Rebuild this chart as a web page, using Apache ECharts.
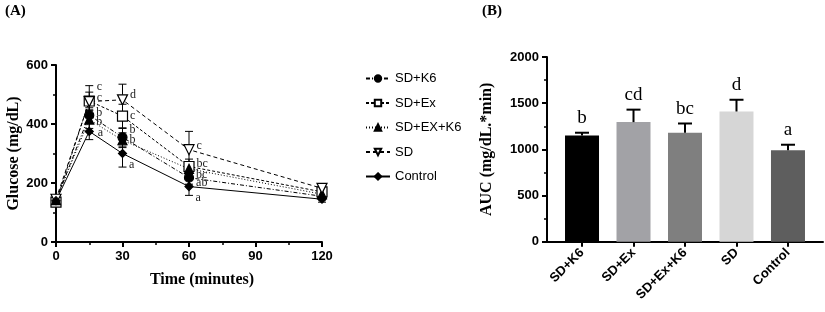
<!DOCTYPE html>
<html>
<head>
<meta charset="utf-8">
<script src="https://cdn.jsdelivr.net/npm/echarts@6/dist/echarts.min.js"></script>
<style>
  html, body { margin: 0; padding: 0; background: #fff; }
  #chart { width: 825px; height: 312px; }
</style>
</head>
<body>
<div id="chart"></div>
<script>
// (A) 血糖耐量曲线 + (B) AUC 柱状图

const times = [0, 15, 30, 60, 120]
const groups = ['SD+K6', 'SD+Ex', 'SD+EX+K6', 'SD', 'Control']

const glucoseK6 = [140, 430, 355, 218, 155]
const glucoseEx = [135, 478, 427, 256, 170]
const glucoseExK6 = [142, 415, 345, 248, 162]
const glucoseSD = [145, 476, 482, 313, 182]
const glucoseControl = [140, 375, 300, 188, 145]

const sdK6 = [10, 25, 30, 22, 12]
const sdEx = [12, 30, 40, 25, 12]
const sdExK6 = [10, 30, 25, 20, 12]
const sdSD = [10, 54, 53, 62, 12]
const sdControl = [10, 28, 46, 30, 10]

const lettersK6 = ['', 'b', 'b', 'ab', '']
const lettersEx = ['', 'c', 'c', 'bc', '']
const lettersExK6 = ['', 'b', 'b', 'bc', '']
const lettersSD = ['', 'c', 'd', 'c', '']
const lettersControl = ['', 'a', 'a', 'a', '']

const aucGroups = ['SD+K6', 'SD+Ex', 'SD+Ex+K6', 'SD', 'Control']
const aucMean = [1150, 1295, 1180, 1410, 990]
const aucSd = [30, 135, 100, 127, 60]
const aucLetters = ['b', 'cd', 'bc', 'd', 'a']

// 样式（不属于数据）
const SANS = 'Arial, "Liberation Sans", sans-serif'
const SERIF = '"Times New Roman", "Liberation Serif", serif'
const aucColors = ['#000000', '#a2a2a6', '#7f7f7f', '#d6d6d6', '#5e5e5e']

const lineDefs = [
  { name: groups[0], y: glucoseK6, sd: sdK6, letters: lettersK6,
    symbol: 'circle', size: 9, fill: '#000', dash: [4, 2, 1, 2],
    offsets: [null, [0, -2], [0, -7], [0, 5], null] },
  { name: groups[1], y: glucoseEx, sd: sdEx, letters: lettersEx,
    symbol: 'rect', size: 10, fill: '#fff', dash: [3, 2],
    offsets: [null, [0, -3], [0, 0], [0, -3], null] },
  { name: groups[2], y: glucoseExK6, sd: sdExK6, letters: lettersExK6,
    symbol: 'triangle', size: 9, fill: '#000', dash: [1, 2],
    offsets: [null, [0, 2], [0, 0], [0, 6], null] },
  { name: groups[3], y: glucoseSD, sd: sdSD, letters: lettersSD,
    symbol: 'path://M0,0 L10,0 L5,9 Z', size: 10, fill: '#fff', dash: [4, 3],
    offsets: [null, [0, -15], [0, -5], [0, -4], null] },
  { name: groups[4], y: glucoseControl, sd: sdControl, letters: lettersControl,
    symbol: 'diamond', size: 8, fill: '#000', dash: 'solid',
    offsets: [null, [2, 1], [0, 11], [0, 11], null] },
]

const axisCommon = {
  axisLine: { show: true, onZero: false, lineStyle: { color: '#000', width: 2 } },
  axisTick: { show: true, length: 5, lineStyle: { color: '#000', width: 2 } },
  minorTick: { show: true, splitNumber: 2, length: 3, lineStyle: { color: '#000', width: 1.5 } },
  splitLine: { show: false },
  axisLabel: { color: '#000', fontFamily: SANS, fontWeight: 'bold', fontSize: 13, margin: 8 },
}

function errorBarA(params, api) {
  const x = api.value(0)
  const lo = api.coord([x, api.value(1)])
  const hi = api.coord([x, api.value(2)])
  const w = 4
  const st = { stroke: '#000', lineWidth: 1 }
  return {
    type: 'group',
    children: [
      { type: 'line', shape: { x1: hi[0], y1: hi[1], x2: lo[0], y2: lo[1] }, style: st },
      { type: 'line', shape: { x1: hi[0] - w, y1: hi[1], x2: hi[0] + w, y2: hi[1] }, style: st },
      { type: 'line', shape: { x1: lo[0] - w, y1: lo[1], x2: lo[0] + w, y2: lo[1] }, style: st },
    ],
  }
}

function errorBarB(params, api) {
  const x = api.value(0)
  const base = api.coord([x, api.value(1)])
  const top = api.coord([x, api.value(1) + api.value(2)])
  const w = 7
  const st = { stroke: '#000', lineWidth: 2 }
  return {
    type: 'group',
    children: [
      { type: 'line', shape: { x1: base[0], y1: base[1], x2: top[0], y2: top[1] }, style: st },
      { type: 'line', shape: { x1: top[0] - w, y1: top[1], x2: top[0] + w, y2: top[1] }, style: st },
      { type: 'text', x: top[0], y: top[1] - 5,
        style: { text: aucLetters[params.dataIndex], fill: '#000', font: '19px ' + SERIF,
                 align: 'center', verticalAlign: 'bottom' } },
    ],
  }
}

const series = []
lineDefs.forEach((d) => {
  const errData = times.map((t, i) => [t, d.y[i] - d.sd[i], d.y[i] + d.sd[i]])
  series.push({
    type: 'custom', xAxisIndex: 0, yAxisIndex: 0, z: 1,
    renderItem: errorBarA, data: errData, silent: true,
  })
})
lineDefs.forEach((d) => {
  series.push({
    name: d.name,
    type: 'line',
    xAxisIndex: 0, yAxisIndex: 0, z: 3,
    symbol: d.symbol,
    symbolSize: d.size,
    itemStyle: { color: d.fill, borderColor: '#000', borderWidth: 1.2 },
    lineStyle: { color: '#000', width: 1, type: d.dash },
    data: times.map((t, i) => ({
      value: [t, d.y[i]],
      label: d.letters[i] ? {
        show: true, formatter: d.letters[i], position: 'right', distance: 2,
        offset: d.offsets[i], color: '#222', fontFamily: SERIF, fontSize: 12,
      } : { show: false },
    })),
  })
})

series.push({
  type: 'bar',
  xAxisIndex: 1, yAxisIndex: 1,
  barWidth: 34,
  data: aucMean.map((v, i) => ({ value: [i, v], itemStyle: { color: aucColors[i] } })),
})
series.push({
  type: 'custom', xAxisIndex: 1, yAxisIndex: 1, z: 3,
  renderItem: errorBarB,
  data: aucMean.map((v, i) => [i, v, aucSd[i]]),
})

const option = {
  animation: false,
  backgroundColor: '#fff',
  graphic: [
    { type: 'text', left: 5, top: 4, style: { text: '(A)', font: 'bold 15px ' + SERIF, fill: '#000' } },
    { type: 'text', left: 482, top: 4, style: { text: '(B)', font: 'bold 15px ' + SERIF, fill: '#000' } },
  ],
  legend: {
    orient: 'vertical',
    left: 360, top: 67,
    itemWidth: 24, itemHeight: 8, itemGap: 11.5,
    data: groups,
    textStyle: { color: '#000', fontFamily: SANS, fontSize: 13 },
  },
  grid: [
    { left: 56, width: 266, top: 65, height: 177 },
    { left: 547, width: 276, top: 57, height: 184.7 },
  ],
  xAxis: [
    {
      ...axisCommon, gridIndex: 0, type: 'value', min: 0, max: 120, interval: 30,
      name: 'Time (minutes)', nameLocation: 'middle', nameGap: 30,
      nameTextStyle: { color: '#000', fontFamily: SERIF, fontWeight: 'bold', fontSize: 16, padding: [0, 0, 0, 26] },
    },
    {
      ...axisCommon, gridIndex: 1, type: 'value', min: -0.68, max: 4.68,
      minorTick: { show: false },
      axisTick: { ...axisCommon.axisTick, customValues: [0, 1, 2, 3, 4] },
      axisLabel: {
        ...axisCommon.axisLabel, rotate: 45, margin: 9,
        customValues: [0, 1, 2, 3, 4],
        formatter: (v) => aucGroups[Math.round(v)] ?? '',
      },
    },
  ],
  yAxis: [
    {
      ...axisCommon, gridIndex: 0, type: 'value', min: 0, max: 600, interval: 200,
      name: 'Glucose (mg/dL)', nameLocation: 'middle', nameGap: 34,
      nameTextStyle: { color: '#000', fontFamily: SERIF, fontWeight: 'bold', fontSize: 16 },
    },
    {
      ...axisCommon, gridIndex: 1, type: 'value', min: 0, max: 2000, interval: 500,
      axisLabel: { ...axisCommon.axisLabel, formatter: (v) => String(v) },
      name: 'AUC (mg/dL.*min)', nameLocation: 'middle', nameGap: 52,
      nameTextStyle: { color: '#000', fontFamily: SERIF, fontWeight: 'bold', fontSize: 16 },
    },
  ],
  series,
}

const chart = echarts.init(document.getElementById('chart'))
chart.setOption(option)
</script>
</body>
</html>
